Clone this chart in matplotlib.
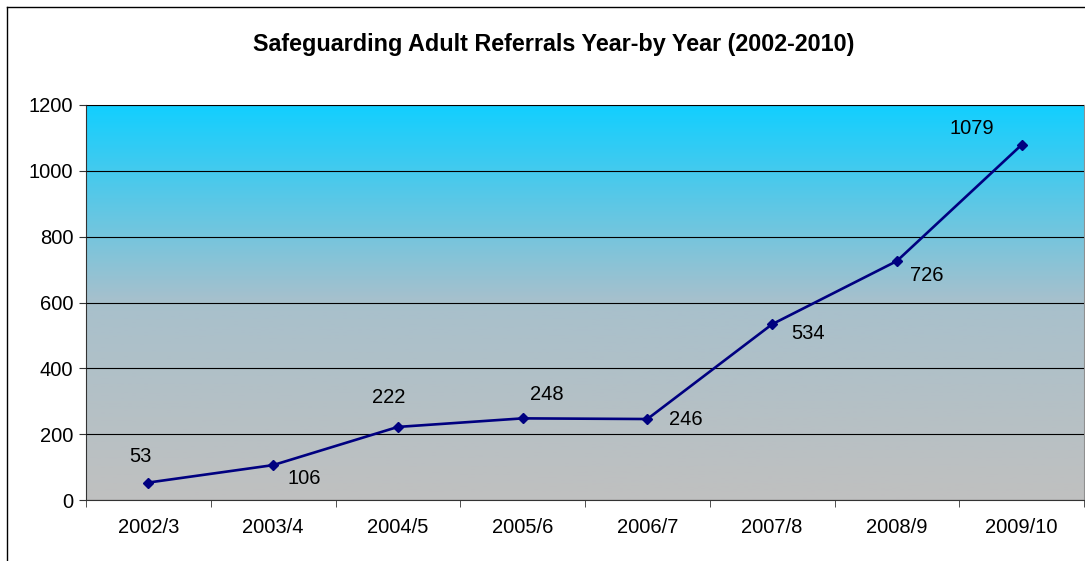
import matplotlib
matplotlib.use('Agg')
import matplotlib.pyplot as plt
import numpy as np
from matplotlib.colors import LinearSegmentedColormap
from matplotlib.lines import Line2D

years = ['2002/3', '2003/4', '2004/5', '2005/6', '2006/7', '2007/8', '2008/9', '2009/10']
referrals = [53, 106, 222, 248, 246, 534, 726, 1079]
# label offsets in pixels (dx, dy) from each point
label_offsets = [(-8, 26), (31, -13), (-9, 29), (24, 24), (38, 0), (36, -9), (30, -14), (-50, 16)]

plt.rcParams['font.family'] = ['Liberation Sans', 'DejaVu Sans']

fig = plt.figure(figsize=(10.85, 5.61), dpi=100)
ax = fig.add_axes([86/1085, 61/561, 998/1085, 395/561])

# gradient background
cmap = LinearSegmentedColormap.from_list('bg', ['#c0c0c0', '#a8c0cc', '#12cfff'])
grad = np.linspace(0, 1, 256).reshape(-1, 1)
ax.imshow(grad, aspect='auto', cmap=cmap, origin='lower',
          extent=[0, 1, 0, 1], transform=ax.transAxes, zorder=0)

x = np.arange(len(years))
ax.plot(x, referrals, color='#000080', lw=1.9, marker='D', markersize=5, zorder=3)

for xi, v, (dx, dy) in zip(x, referrals, label_offsets):
    ax.annotate(str(v), (xi, v), xytext=(dx, dy), textcoords='offset pixels',
                ha='center', va='center', fontsize=14.5, color='black', zorder=4)

ax.set_xlim(-0.5, len(years) - 0.5)
ax.set_ylim(0, 1200)
ax.set_yticks(range(0, 1201, 200))
ax.set_xticks(x)
ax.set_xticklabels(years)
ax.set_xticks(np.arange(-0.5, len(years)), minor=True)
ax.tick_params(axis='x', which='major', length=0, pad=13, labelsize=14.5)
ax.tick_params(axis='x', which='minor', length=5, direction='out', color='#333333')
ax.tick_params(axis='y', length=5, direction='out', labelsize=14.5, pad=4, color='#333333')
ax.yaxis.grid(True, color='black', lw=0.8, zorder=1)
ax.set_axisbelow(False)
for gl in ax.get_ygridlines():
    gl.set_zorder(1)

for s in ['top', 'right']:
    ax.spines[s].set_color('#909090')
for s in ['left', 'bottom']:
    ax.spines[s].set_color('#333333')

fig.text(0.51, 1 - 44/561, 'Safeguarding Adult Referrals Year-by Year (2002-2010)',
         ha='center', va='center', fontsize=16.8, fontweight='bold')

# chart frame
fig.add_artist(Line2D([7/1085, 7/1085], [0, 1 - 7/561], color='black', lw=1))
fig.add_artist(Line2D([7/1085, 1], [1 - 7/561, 1 - 7/561], color='black', lw=1))

fig.savefig('out.png', dpi=100)
